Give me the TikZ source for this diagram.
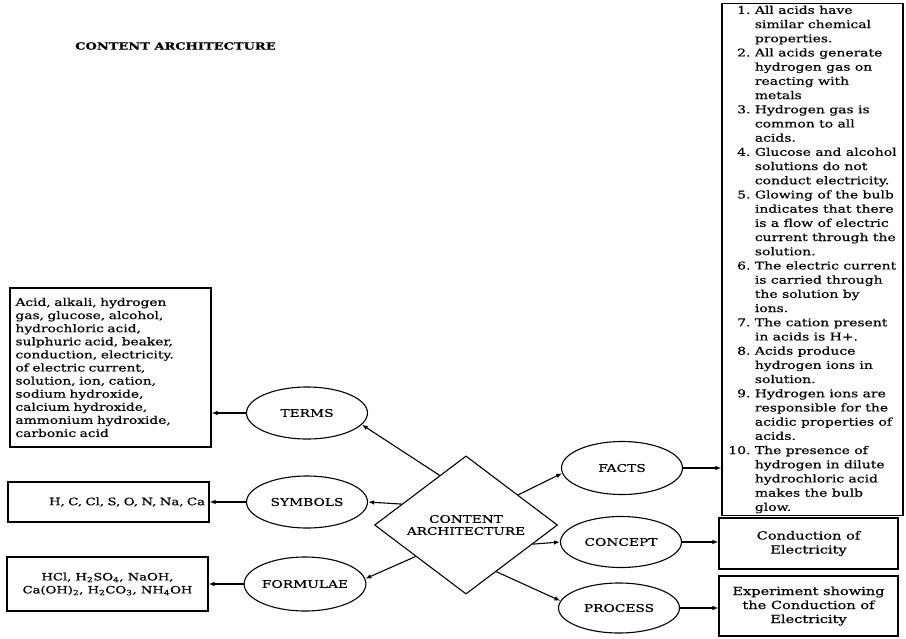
\documentclass[tikz,border=0pt]{standalone}
\usepackage{fontspec}
\setmainfont{DejaVu Serif}[FakeStretch=1.3, FakeBold=0.6]
\usetikzlibrary{arrows.meta, shapes.geometric, positioning}

\tikzset{
  topic/.style={draw, line width=1.1pt, ellipse, minimum width=121pt, minimum height=52pt,
    inner sep=0pt, font=\fontsize{10.6}{12}\selectfont},
  infobox/.style={draw, line width=1.1pt, rectangle, inner sep=0pt},
  link/.style={line width=1.1pt, -{Latex[length=6pt, width=4.5pt]}},
}

\begin{document}
\begin{tikzpicture}[x=1pt, y=-1pt]
  \useasboundingbox (0,0) rectangle (906,638);

  % ---- title ----
  \node[anchor=west, inner sep=0pt, font=\bfseries\fontsize{10}{12}\selectfont]
    (title) at (75,46) {CONTENT ARCHITECTURE};

  % ---- centre ----
  \node[draw, line width=1.1pt, diamond, minimum width=183pt, minimum height=117pt,
    inner sep=0pt, align=center, font=\fontsize{10.5}{12}\selectfont]
    (ca) at (466,525) {CONTENT\\ARCHITECTURE};

  % ---- left side ----
  \node[topic] (terms)    at (307,413) {TERMS};
  \node[topic] (symbols)  at (307,502) {SYMBOLS};
  \node[topic, minimum height=54pt] (formulae) at (305,584) {FORMULAE};

  \node[infobox, minimum width=201pt, minimum height=159pt, text width=190pt,
    align=left, font=\fontsize{10.6}{13.1}\selectfont] (termsbox) at (110.5,367.5)
    {Acid, alkali, hydrogen\\
     gas, glucose, alcohol,\\
     hydrochloric acid,\\
     sulphuric acid, beaker,\\
     conduction, electricity.\\
     of electric current,\\
     solution, ion, cation,\\
     sodium hydroxide,\\
     calcium hydroxide,\\
     ammonium hydroxide,\\
     carbonic acid};
  \node[infobox, minimum width=201pt, minimum height=40pt, text width=193pt,
    align=right, font=\fontsize{10.2}{12}\selectfont] (symbolsbox) at (108.5,502)
    {H, C, Cl, S, O, N, Na, Ca};
  \node[infobox, minimum width=201pt, minimum height=54pt, align=center,
    font=\fontsize{10.1}{13}\selectfont] (formulaebox) at (107.5,584)
    {HCl, H\textsubscript{2}SO\textsubscript{4}, NaOH,\\
     Ca(OH)\textsubscript{2}, H\textsubscript{2}CO\textsubscript{3}, NH\textsubscript{4}OH};

  % ---- right side ----
  \node[topic, minimum height=53pt] (facts)   at (622,468) {FACTS};
  \node[topic, minimum height=51pt] (concept) at (621,542) {CONCEPT};
  \node[topic, minimum height=50pt] (process) at (619,608) {PROCESS};

  \node[infobox, minimum width=181pt, minimum height=505pt,
    font=\fontsize{10.7}{14.2}\selectfont] (factsbox) at (812.5,259.5)
    {\begin{tabular}{@{}r@{\ }l@{}}
      1. & All acids have\\ & similar chemical\\ & properties.\\
      2. & All acids generate\\ & hydrogen gas on\\ & reacting with\\ & metals\\
      3. & Hydrogen gas is\\ & common to all\\ & acids.\\
      4. & Glucose and alcohol\\ & solutions do not\\ & conduct electricity.\\
      5. & Glowing of the bulb\\ & indicates that there\\ & is a flow of electric\\
         & current through the\\ & solution.\\
      6. & The electric current\\ & is carried through\\ & the solution by\\ & ions.\\
      7. & The cation present\\ & in acids is H+.\\
      8. & Acids produce\\ & hydrogen ions in\\ & solution.\\
      9. & Hydrogen ions are\\ & responsible for the\\ & acidic properties of\\ & acids.\\
      10. & The presence of\\ & hydrogen in dilute\\ & hydrochloric acid\\
          & makes the bulb\\ & glow.
    \end{tabular}};
  \node[infobox, minimum width=179pt, minimum height=51pt, align=center,
    font=\fontsize{11.2}{14}\selectfont] (conceptbox) at (808.5,543.5)
    {Conduction of\\Electricity};
  \node[infobox, minimum width=179pt, minimum height=60pt, align=center,
    font=\fontsize{11.2}{14}\selectfont] (processbox) at (808.5,606)
    {Experiment showing\\the Conduction of\\Electricity};

  % ---- connectors ----
  \draw[link] (ca.118) -- (terms.-12);
  \draw[link] (ca.162) -- (symbols.east);
  \draw[link] (ca.212) -- (formulae.5);
  \draw[link] (ca.30)  -- (facts.185);
  \draw[link] (ca.-16) -- (concept.west);
  \draw[link] (ca.-57) -- (process.173);

  \draw[link] (terms.west)    -- (terms.west -| termsbox.east);
  \draw[link] (symbols.west)  -- (symbols.west -| symbolsbox.east);
  \draw[link] (formulae.west) -- (formulae.west -| formulaebox.east);
  \draw[link] (facts.east)    -- (facts.east -| factsbox.west);
  \draw[link] (concept.east)  -- (concept.east -| conceptbox.west);
  \draw[link] (process.east)  -- (process.east -| processbox.west);
\end{tikzpicture}
\end{document}
